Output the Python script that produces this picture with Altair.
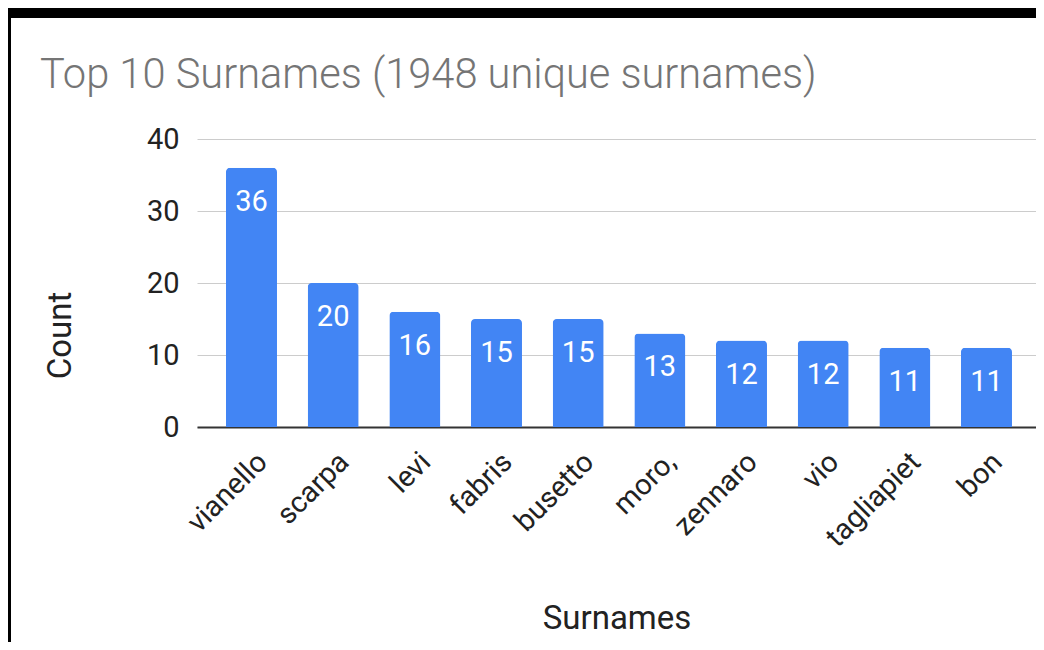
import altair as alt
import pandas as pd

names = ["vianello", "scarpa", "levi", "fabris", "busetto", "moro,", "zennaro", "vio", "tagliapiet", "bon"]
counts = [36, 20, 16, 15, 15, 13, 12, 12, 11, 11]
y_ticks = [0, 10, 20, 30, 40]

df = pd.DataFrame({"name": names, "count": counts})

FONT = "Roboto"
W, H = 839, 288

x_enc = alt.X(
    "name:N",
    sort=None,
    scale=alt.Scale(paddingInner=0.3755, paddingOuter=0.3245, align=0.547),
    axis=alt.Axis(
        title="Surnames",
        labelAngle=-45,
        labelAlign="right",
        labelBaseline="middle",
        labelPadding=30,
        labelOffset=11,
        labelFontSize=29,
        labelFont=FONT,
        labelColor="#222222",
        ticks=False,
        tickSize=0,
        domainColor="#333333",
        domainWidth=2,
        grid=False,
        titleFont=FONT,
        titleFontSize=33,
        titleFontWeight="normal",
        titleColor="#222222",
        titleBaseline="alphabetic",
        titleY=201,
    ),
)
y_enc = alt.Y(
    "count:Q",
    scale=alt.Scale(domain=[0, 40]),
    axis=alt.Axis(
        title="Count",
        values=y_ticks,
        labelFontSize=29,
        labelFont=FONT,
        labelColor="#222222",
        labelPadding=18,
        ticks=False,
        tickSize=0,
        domain=False,
        grid=True,
        gridColor="#cccccc",
        gridWidth=1,
        titleFont=FONT,
        titleFontSize=33,
        titleFontWeight="normal",
        titleColor="#222222",
        titleAngle=270,
        titleBaseline="middle",
        titleAlign="center",
        titleX=-137,
        titleY=196,
    ),
)

base = alt.Chart(df)
bars = base.mark_bar(color="#4285F4", cornerRadiusTopLeft=4, cornerRadiusTopRight=4).encode(x=x_enc, y=y_enc)
labels = base.mark_text(
    color="white", font=FONT, fontSize=29, align="center", baseline="alphabetic", dy=43
).encode(x=x_enc, y=y_enc, text="count:Q")

strip_df = pd.DataFrame({"k": [0]})
top_strip = alt.Chart(strip_df).mark_rect(color="black").encode(
    x=alt.value(-189), x2=alt.value(W), y=alt.value(-131), y2=alt.value(-121)
)
left_strip = alt.Chart(strip_df).mark_rect(color="black").encode(
    x=alt.value(-189), x2=alt.value(-186), y=alt.value(-131), y2=alt.value(H + 215)
)

chart = alt.layer(bars, labels, top_strip, left_strip).properties(
    width=W,
    height=H,
    padding={"left": 189, "top": 131, "right": 0, "bottom": 215},
    autosize=alt.AutoSizeParams(type="none"),
    background="white",
    title=alt.TitleParams(
        text="Top 10 Surnames (1948 unique surnames)",
        anchor="start",
        frame="group",
        dx=-157,
        dy=93,
        font=FONT,
        fontSize=41.6,
        fontWeight=300,
        color="#757575",
    ),
).configure_view(stroke=None)

chart.save("out.html", embed_options={"renderer": "svg", "actions": False})
